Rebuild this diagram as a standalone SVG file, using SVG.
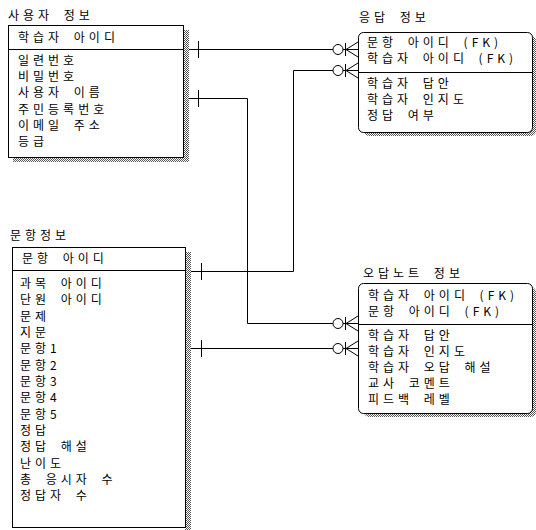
<svg xmlns="http://www.w3.org/2000/svg" width="536" height="530" viewBox="0 0 536 530">
<style>
  text { font-family: "Noto Sans CJK KR", "Noto Sans", sans-serif; font-size: 12px; letter-spacing: 4px; word-spacing: 4px; fill: #000; }
  .box { fill: #fff; stroke: #000; stroke-width: 1; }
  .div { stroke: #000; stroke-width: 1; }
  .shadow { fill: url(#dither); }
  .conn { fill: none; stroke: #000; stroke-width: 1; }
  .circ { fill: #fff; stroke: #000; stroke-width: 1; }
</style>
<defs>
  <pattern id="dither" width="2" height="2" patternUnits="userSpaceOnUse">
    <rect x="0" y="0" width="2" height="2" fill="#fff"/>
    <rect x="0" y="0" width="1" height="1" fill="#555"/>
    <rect x="1" y="1" width="1" height="1" fill="#555"/>
  </pattern>
</defs>
<rect width="536" height="530" fill="#fff"/>

<g id="user-info">
  <text x="8" y="20">사용자 정보</text>
  <rect class="shadow" x="183" y="30" width="6" height="132"/>
  <rect class="shadow" x="13" y="157" width="176" height="5"/>
  <rect class="box" x="8.5" y="25.5" width="175" height="132"/>
  <line class="div" x1="8.5" y1="49.5" x2="183.5" y2="49.5"/>
  <text x="18" y="42">학습자 아이디</text>
  <text x="18" y="65">일련번호</text>
  <text x="18" y="81">비밀번호</text>
  <text x="18" y="97">사용자 이름</text>
  <text x="18" y="114">주민등록번호</text>
  <text x="18" y="130">이메일 주소</text>
  <text x="18" y="146">등급</text>
</g>

<g id="question-info">
  <text x="10" y="240">문항정보</text>
  <rect class="shadow" x="185" y="252" width="6" height="278"/>
  <rect class="box" x="12.5" y="247.5" width="173" height="280"/>
  <line class="div" x1="12.5" y1="270.5" x2="185.5" y2="270.5"/>
  <text x="22" y="263">문항 아이디</text>
  <text x="20" y="288">과목 아이디</text>
  <text x="20" y="304">단원 아이디</text>
  <text x="20" y="320.5">문제</text>
  <text x="20" y="337">지문</text>
  <text x="20" y="353">문항1</text>
  <text x="20" y="369.5">문항2</text>
  <text x="20" y="386">문항3</text>
  <text x="20" y="402">문항4</text>
  <text x="20" y="418.5">문항5</text>
  <text x="20" y="435">정답</text>
  <text x="20" y="451">정답 해설</text>
  <text x="20" y="467.5">난이도</text>
  <text x="20" y="484">총 응시자 수</text>
  <text x="20" y="500">정답자 수</text>
</g>

<g id="answer-info">
  <text x="359" y="22">응답 정보</text>
  <rect class="shadow" x="364" y="36" width="172" height="100" rx="5"/>
  <rect class="box" x="358.5" y="32.5" width="174" height="100" rx="5"/>
  <line class="div" x1="358.5" y1="72.5" x2="532.5" y2="72.5"/>
  <text x="367" y="47">문항 아이디 (FK)</text>
  <text x="367" y="63">학습자 아이디 (FK)</text>
  <text x="367" y="88">학습자 답안</text>
  <text x="367" y="104">학습자 인지도</text>
  <text x="367" y="120">정답 여부</text>
</g>

<g id="wrong-note-info">
  <text x="363" y="278">오답노트 정보</text>
  <rect class="shadow" x="364" y="287" width="172" height="130" rx="5"/>
  <rect class="box" x="358.5" y="283.5" width="174" height="130" rx="5"/>
  <line class="div" x1="358.5" y1="324.5" x2="532.5" y2="324.5"/>
  <text x="368" y="300">학습자 아이디 (FK)</text>
  <text x="368" y="316">문항 아이디 (FK)</text>
  <text x="368" y="340">학습자 답안</text>
  <text x="368" y="356">학습자 인지도</text>
  <text x="368" y="372">학습자 오답 해설</text>
  <text x="368" y="388">교사 코멘트</text>
  <text x="368" y="404">피드백 레벨</text>
</g>

<g id="connectors">
  <!-- user -> answer -->
  <path class="conn" d="M189,49.5 H333"/>
  <path class="conn" d="M198.5,41 V58"/>
  <circle class="circ" cx="338" cy="49.5" r="5"/>
  <path class="conn" d="M343,49.5 H358 M345.5,43 V56 M346,49.5 L358,42 M346,49.5 L358,57"/>

  <!-- user -> wrong note -->
  <path class="conn" d="M189,98.5 H247.5 V323.5 H333"/>
  <path class="conn" d="M198.5,90 V107"/>
  <circle class="circ" cx="338" cy="323.5" r="5"/>
  <path class="conn" d="M343,323.5 H358 M345.5,317 V330 M346,323.5 L358,316 M346,323.5 L358,331"/>

  <!-- question -> answer -->
  <path class="conn" d="M191,271.5 H293.5 V70.5 H333"/>
  <path class="conn" d="M201.5,263 V280"/>
  <circle class="circ" cx="338" cy="70.5" r="5"/>
  <path class="conn" d="M343,70.5 H358 M345.5,64 V77 M346,70.5 L358,63 M346,70.5 L358,78"/>

  <!-- question -> wrong note -->
  <path class="conn" d="M191,348.5 H333"/>
  <path class="conn" d="M201.5,340 V357"/>
  <circle class="circ" cx="338" cy="348.5" r="5"/>
  <path class="conn" d="M343,348.5 H358 M345.5,342 V355 M346,348.5 L358,341 M346,348.5 L358,356"/>
</g>
</svg>
